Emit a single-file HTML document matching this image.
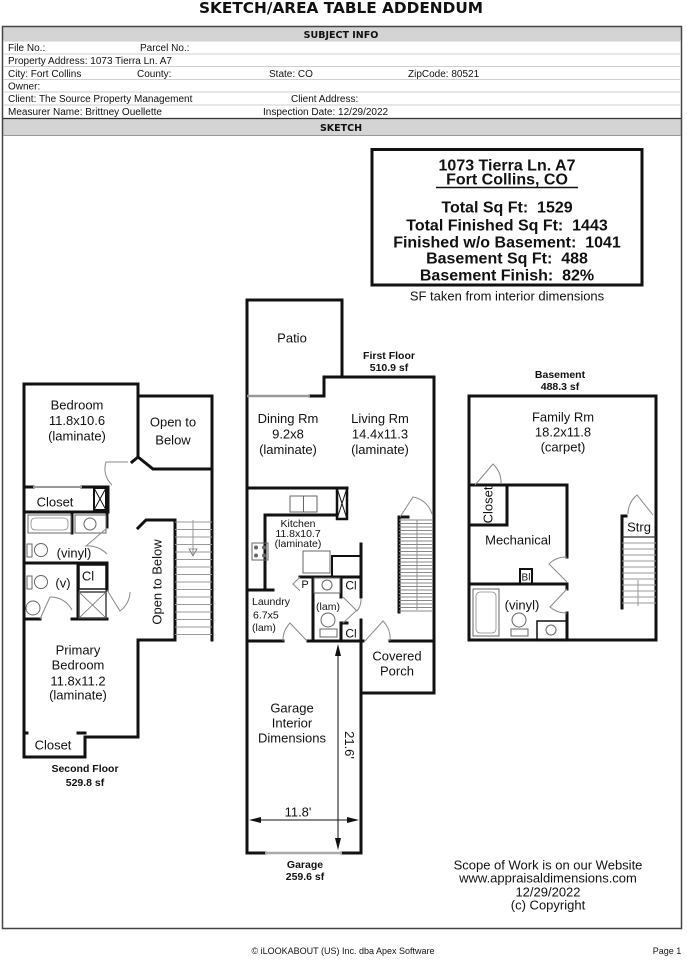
<!DOCTYPE html>
<html><head><meta charset="utf-8"><style>
html,body{margin:0;padding:0;background:#fff;}
svg{display:block;}
text{font-family:"Liberation Sans",Arial,sans-serif;fill:#111;}
.t{font-family:"DejaVu Sans","Liberation Sans",sans-serif;}
</style></head><body>
<svg width="687" height="960" viewBox="0 0 687 960" xmlns="http://www.w3.org/2000/svg">
<rect width="687" height="960" fill="#fff"/>
<!-- Title -->
<text class="t" x="341" y="13" font-size="15" font-weight="bold" text-anchor="middle" textLength="284" lengthAdjust="spacingAndGlyphs">SKETCH/AREA TABLE ADDENDUM</text>
<!-- header table -->
<rect x="3" y="27" width="678" height="14" fill="#d4d4d4"/>
<rect x="3" y="119" width="678" height="16" fill="#d4d4d4"/>
<rect x="2.5" y="26.5" width="679" height="902" fill="none" stroke="#444" stroke-width="1.5"/>
<g stroke="#cfcfcf" stroke-width="1">
<line x1="3" y1="41" x2="681" y2="41"/>
<line x1="3" y1="54" x2="681" y2="54"/>
<line x1="3" y1="66.5" x2="681" y2="66.5"/>
<line x1="3" y1="79.5" x2="681" y2="79.5"/>
<line x1="3" y1="92" x2="681" y2="92"/>
<line x1="3" y1="105" x2="681" y2="105"/>
</g>
<line x1="3" y1="118.5" x2="681" y2="118.5" stroke="#333" stroke-width="1.2"/>
<line x1="3" y1="135.5" x2="681" y2="135.5" stroke="#999" stroke-width="1"/>
<text class="t" x="341" y="38" font-size="9.5" font-weight="bold" text-anchor="middle">SUBJECT INFO</text>
<text class="t" x="341" y="131" font-size="9.5" font-weight="bold" text-anchor="middle">SKETCH</text>
<g font-size="10" fill="#222">
<text x="8" y="51">File No.:</text><text x="140" y="51">Parcel No.:</text>
<text x="8" y="64">Property Address: 1073 Tierra Ln. A7</text>
<text x="8" y="77">City: Fort Collins</text><text x="137" y="77">County:</text><text x="269" y="77">State: CO</text><text x="408" y="77">ZipCode: 80521</text>
<text x="8" y="89.5">Owner:</text>
<text x="8" y="102">Client: The Source Property Management</text><text x="291" y="102">Client Address:</text>
<text x="8" y="115">Measurer Name: Brittney Ouellette</text><text x="263" y="115">Inspection Date: 12/29/2022</text>
</g>

<!-- Info box -->
<rect x="372" y="149.5" width="270" height="135.5" fill="none" stroke="#111" stroke-width="3"/>
<g font-size="16" font-weight="bold" text-anchor="middle">
<text x="507" y="170.5">1073 Tierra Ln. A7</text>
<text x="507" y="184.5">Fort Collins, CO</text>
<text x="507" y="212.5">Total Sq Ft: &#160;1529</text>
<text x="507" y="230.5">Total Finished Sq Ft: &#160;1443</text>
<text x="507" y="247.5">Finished w/o Basement: &#160;1041</text>
<text x="507" y="263.5">Basement Sq Ft: &#160;488</text>
<text x="507" y="280.5">Basement Finish: &#160;82%</text>
</g>
<line x1="436" y1="187.5" x2="578" y2="187.5" stroke="#111" stroke-width="1.5"/>
<text x="507" y="300.5" font-size="13" text-anchor="middle">SF taken from interior dimensions</text>

<!-- ================= SECOND FLOOR ================= -->
<g fill="none" stroke="#111" stroke-width="3" stroke-linecap="square">
<path d="M24,757 V384 H138 V457"/>
<path d="M132,462 L138,457 L153,469 H212"/>
<path d="M138,396 H212 V640"/>
<path d="M24,487 H33 M82,487 H108 V512 H24"/>
<path d="M72,512 V533"/>
<path d="M24,563 H107"/>
<path d="M107,512 V527"/>
<path d="M78,563 V619"/>
<path d="M24,619 H40 M72,619 H107"/>
<path d="M107,563 V590"/>
<path d="M138,528 L146,520 H175 V640 H138 V737 H85 V757 H24"/>
<path d="M24,733 H27 M78,733 H85"/>
</g>
<rect x="94" y="488" width="12" height="22" fill="none" stroke="#111" stroke-width="2"/>
<path d="M94,488 L106,510 M106,488 L94,510" stroke="#111" stroke-width="1"/>
<line x1="33" y1="487" x2="82" y2="487" stroke="#999" stroke-width="2"/>
<!-- bath fixtures -->
<rect x="28" y="515" width="43" height="18" fill="none" stroke="#666" stroke-width="1"/>
<rect x="31" y="518" width="37" height="12" rx="4" fill="none" stroke="#888" stroke-width="0.8"/>
<rect x="75" y="515" width="31" height="18" fill="none" stroke="#666" stroke-width="1"/>
<circle cx="90" cy="524" r="6" fill="none" stroke="#666" stroke-width="1"/>
<rect x="27" y="544" width="5" height="13" fill="none" stroke="#666"/>
<circle cx="41" cy="550" r="6.5" fill="none" stroke="#666"/>
<rect x="27" y="576" width="5" height="13" fill="none" stroke="#666"/>
<circle cx="41" cy="582" r="6.5" fill="none" stroke="#666"/>
<rect x="79" y="565" width="27" height="24" fill="none" stroke="#111" stroke-width="1.5"/>
<rect x="79" y="592" width="27" height="26" fill="none" stroke="#444" stroke-width="1.5"/>
<path d="M79,592 L106,618 M106,592 L79,618" stroke="#666" stroke-width="0.8"/>
<circle cx="33" cy="608" r="7" fill="none" stroke="#666"/>
<!-- doors second floor -->
<g fill="none" stroke="#888" stroke-width="1">
<path d="M128,462 H106 A22,22 0 0 0 112,485"/>
<path d="M107,528 L86,546 A26,26 0 0 1 107,554"/>
<path d="M40,619 L50,597 A24,24 0 0 1 72,610"/>
<path d="M107,590 L120,611 A24,24 0 0 0 130,592"/>
</g>
<!-- left stairs -->
<g stroke="#999" stroke-width="1">
<line x1="175" y1="522" x2="212" y2="522"/><line x1="175" y1="529.5" x2="212" y2="529.5"/><line x1="175" y1="537" x2="212" y2="537"/><line x1="175" y1="544.5" x2="212" y2="544.5"/><line x1="175" y1="552" x2="212" y2="552"/><line x1="175" y1="559.5" x2="212" y2="559.5"/><line x1="175" y1="567" x2="212" y2="567"/><line x1="175" y1="574.5" x2="212" y2="574.5"/><line x1="175" y1="582" x2="212" y2="582"/><line x1="175" y1="589.5" x2="212" y2="589.5"/><line x1="175" y1="597" x2="212" y2="597"/><line x1="175" y1="604.5" x2="212" y2="604.5"/><line x1="175" y1="612" x2="212" y2="612"/><line x1="175" y1="619.5" x2="212" y2="619.5"/><line x1="175" y1="627" x2="212" y2="627"/><line x1="175" y1="634.5" x2="212" y2="634.5"/>
<line x1="193" y1="520" x2="193" y2="556"/>
</g>
<path d="M189,549 L197,549 L193,556 Z" fill="none" stroke="#777" stroke-width="0.8"/>
<g font-size="13" text-anchor="middle">
<text x="77" y="409.5">Bedroom</text>
<text x="77" y="425">11.8x10.6</text>
<text x="77" y="440.5">(laminate)</text>
<text x="173" y="426.5">Open to</text>
<text x="173" y="444.5">Below</text>
<text x="55" y="506.5">Closet</text>
<text x="74" y="557.5">(vinyl)</text>
<text x="63" y="587.5">(v)</text>
<text x="88" y="580.5">Cl</text>
<text transform="translate(161.5,582) rotate(-90)">Open to Below</text>
<text x="78" y="654.5">Primary</text>
<text x="78" y="669.5">Bedroom</text>
<text x="78" y="685.5">11.8x11.2</text>
<text x="78" y="699.5">(laminate)</text>
<text x="53" y="749.5">Closet</text>
</g>
<g font-size="10.5" font-weight="bold" text-anchor="middle">
<text x="85" y="772">Second Floor</text>
<text x="85" y="786">529.8 sf</text>
</g>

<!-- ================= FIRST FLOOR ================= -->
<g fill="none" stroke="#111" stroke-width="3" stroke-linecap="square">
<path d="M247,853 V300 H342 V377"/>
<path d="M310,396 H324 V377 H434 V693 H361"/>
<path d="M247,488 H347"/>
<path d="M265,589 V515 H337"/>
<path d="M247,590 H273"/>
<path d="M361,544 V597"/>
<path d="M300,577 H361"/>
<path d="M313,577 V641"/>
<path d="M341,577 V597"/>
<path d="M341,623 V641 M341,623 H347"/>
<path d="M361,620 V853"/>
<path d="M247,641 H283 M308,641 H363 M390,641 H434"/>
<path d="M247,853 H265 M342,853 H361"/>
<path d="M399,517 V612 M399,517 H408"/>
</g>
<line x1="247" y1="396" x2="310" y2="396" stroke="#999" stroke-width="2.5"/>
<line x1="265" y1="853" x2="342" y2="853" stroke="#aaa" stroke-width="2.5"/>
<rect x="337" y="488" width="10" height="31" fill="none" stroke="#111" stroke-width="2.5"/>
<path d="M337,488 L347,519 M347,488 L337,519" stroke="#111" stroke-width="1"/>
<!-- kitchen fixtures -->
<rect x="290" y="496" width="27" height="16" fill="none" stroke="#666"/>
<line x1="303.5" y1="496" x2="303.5" y2="512" stroke="#666"/>
<rect x="252" y="543" width="16" height="17" fill="none" stroke="#666"/>
<circle cx="256" cy="547.5" r="2" fill="#666"/><circle cx="264" cy="547.5" r="2" fill="#666"/><circle cx="256" cy="555.5" r="2" fill="#666"/><circle cx="264" cy="555.5" r="2" fill="#666"/>
<rect x="303" y="551" width="27" height="22" fill="none" stroke="#666"/>
<path d="M332,577 V556 H360" fill="none" stroke="#111" stroke-width="2"/>
<rect x="314" y="578" width="26" height="15" fill="none" stroke="#666"/>
<circle cx="327" cy="585" r="5" fill="none" stroke="#666"/>
<circle cx="328" cy="620" r="7" fill="none" stroke="#666"/>
<rect x="320" y="629" width="17" height="8" fill="none" stroke="#666"/>
<!-- doors first floor -->
<g fill="none" stroke="#888" stroke-width="1">
<path d="M300,577 L293,584 L300,591"/>
<path d="M307,641 L290,623 A25,25 0 0 0 283,641"/>
<path d="M365,641 L383,621 A25,25 0 0 1 390,641"/>
<path d="M400,517 L413,497 A24,24 0 0 1 432,514"/>
<path d="M343,597 L357,611 A18,18 0 0 0 361,599"/>
<path d="M343,623 L357,610"/>
</g>
<!-- middle stairs -->
<g stroke="#888" stroke-width="0.9">
<line x1="399" y1="520" x2="433" y2="520"/><line x1="399" y1="523.5" x2="433" y2="523.5"/><line x1="399" y1="527" x2="433" y2="527"/><line x1="399" y1="530.5" x2="433" y2="530.5"/><line x1="399" y1="534" x2="433" y2="534"/><line x1="399" y1="537.5" x2="433" y2="537.5"/><line x1="399" y1="541" x2="433" y2="541"/><line x1="399" y1="544.5" x2="433" y2="544.5"/><line x1="399" y1="548" x2="433" y2="548"/><line x1="399" y1="551.5" x2="433" y2="551.5"/><line x1="399" y1="555" x2="433" y2="555"/><line x1="399" y1="558.5" x2="433" y2="558.5"/><line x1="399" y1="562" x2="433" y2="562"/><line x1="399" y1="565.5" x2="433" y2="565.5"/><line x1="399" y1="569" x2="433" y2="569"/><line x1="399" y1="572.5" x2="433" y2="572.5"/><line x1="399" y1="576" x2="433" y2="576"/><line x1="399" y1="579.5" x2="433" y2="579.5"/><line x1="399" y1="583" x2="433" y2="583"/><line x1="399" y1="586.5" x2="433" y2="586.5"/><line x1="399" y1="590" x2="433" y2="590"/><line x1="399" y1="593.5" x2="433" y2="593.5"/><line x1="399" y1="597" x2="433" y2="597"/><line x1="399" y1="600.5" x2="433" y2="600.5"/><line x1="399" y1="604" x2="433" y2="604"/><line x1="399" y1="607.5" x2="433" y2="607.5"/><line x1="399" y1="611" x2="433" y2="611"/>
<line x1="417" y1="520" x2="417" y2="610"/>
</g>
<!-- dimensions -->
<g stroke="#111" stroke-width="1">
<line x1="338" y1="650" x2="338" y2="846"/>
<line x1="252" y1="820" x2="356" y2="820"/>
</g>
<path d="M338,644 L335,656 L341,656 Z M338,850 L335,838 L341,838 Z M249,820 L261,817 L261,823 Z M359,820 L347,817 L347,823 Z" fill="#111"/>
<g font-size="13" text-anchor="middle">
<text x="292" y="342.5">Patio</text>
<text x="288" y="423">Dining Rm</text>
<text x="288" y="438.5">9.2x8</text>
<text x="288" y="454">(laminate)</text>
<text x="380" y="423">Living Rm</text>
<text x="380" y="438.5">14.4x11.3</text>
<text x="380" y="454">(laminate)</text>
<text x="397" y="660.5">Covered</text>
<text x="397" y="675.5">Porch</text>
<text x="292" y="712.5">Garage</text>
<text x="292" y="727.5">Interior</text>
<text x="292" y="742.5">Dimensions</text>
<text x="298" y="816.5">11.8'</text>
<text transform="translate(345,745) rotate(90)">21.6'</text>
<text x="351" y="589.5" font-size="12">Cl</text>
<text x="351" y="637.5" font-size="12">Cl</text>
</g>
<g font-size="10.5" text-anchor="middle">
<text x="298" y="527">Kitchen</text>
<text x="298" y="537">11.8x10.7</text>
<text x="298" y="547">(laminate)</text>
<text x="328" y="610">(lam)</text>
<text x="305" y="588" font-size="11">P</text>
</g>
<g font-size="10.5">
<text x="252" y="605">Laundry</text>
<text x="253" y="618.5">6.7x5</text>
<text x="252" y="631">(lam)</text>
</g>
<g font-size="10.5" font-weight="bold" text-anchor="middle">
<text x="389" y="359">First Floor</text>
<text x="389" y="371">510.9 sf</text>
<text x="305" y="868">Garage</text>
<text x="305" y="880">259.6 sf</text>
</g>

<!-- ================= BASEMENT ================= -->
<g fill="none" stroke="#111" stroke-width="3" stroke-linecap="square">
<rect x="469" y="396" width="187" height="244"/>
<path d="M469,485 H567 V557"/>
<path d="M507,485 V525 H469"/>
<path d="M469,584 H567 V589"/>
<path d="M567,613 V640"/>
<path d="M622,608 V516 H626"/>
</g>
<line x1="622" y1="537" x2="656" y2="537" stroke="#333" stroke-width="1.2"/>
<rect x="520" y="569" width="12" height="15" fill="none" stroke="#111" stroke-width="2"/>
<rect x="473" y="589" width="26" height="47" fill="none" stroke="#666"/>
<rect x="476" y="592" width="20" height="41" rx="4" fill="none" stroke="#888" stroke-width="0.8"/>
<circle cx="519" cy="620" r="7" fill="none" stroke="#666"/>
<rect x="511" y="629" width="17" height="7" fill="none" stroke="#666"/>
<rect x="537" y="621" width="30" height="19" fill="none" stroke="#111" stroke-width="1.5"/>
<circle cx="551" cy="630" r="5" fill="none" stroke="#666"/>
<g fill="none" stroke="#888" stroke-width="1">
<path d="M475,485 L493,464 A26,26 0 0 1 501,484"/>
<path d="M567,582 L549,564 A24,24 0 0 1 567,557"/>
<path d="M567,589 L550,607 A24,24 0 0 0 567,613"/>
<path d="M653,515 L637,495 A24,24 0 0 0 628,514"/>
</g>
<g stroke="#999" stroke-width="1">
<line x1="622" y1="543" x2="656" y2="543"/><line x1="622" y1="549" x2="656" y2="549"/><line x1="622" y1="555" x2="656" y2="555"/><line x1="622" y1="561" x2="656" y2="561"/><line x1="622" y1="567" x2="656" y2="567"/><line x1="622" y1="573" x2="656" y2="573"/><line x1="622" y1="579" x2="656" y2="579"/><line x1="622" y1="585" x2="656" y2="585"/><line x1="622" y1="591" x2="656" y2="591"/><line x1="622" y1="597" x2="656" y2="597"/><line x1="622" y1="603" x2="656" y2="603"/>
<line x1="638" y1="580" x2="638" y2="606"/>
</g>
<g font-size="13" text-anchor="middle">
<text x="563" y="421.5">Family Rm</text>
<text x="563" y="436.5">18.2x11.8</text>
<text x="563" y="451.5">(carpet)</text>
<text transform="translate(492.5,505) rotate(-90)">Closet</text>
<text x="518" y="544.5">Mechanical</text>
<text x="522" y="609.5">(vinyl)</text>
<text x="639" y="531.5">Strg</text>
<text x="526" y="580.5" font-size="10">Bl</text>
</g>
<g font-size="10.5" font-weight="bold" text-anchor="middle">
<text x="560" y="378">Basement</text>
<text x="560" y="390">488.3 sf</text>
</g>

<!-- Scope -->
<g font-size="13" text-anchor="middle">
<text x="548" y="869.5">Scope of Work is on our Website</text>
<text x="548" y="882.5">www.appraisaldimensions.com</text>
<text x="548" y="896.5">12/29/2022</text>
<text x="548" y="909.5">(c) Copyright</text>
</g>
<!-- footer -->
<text x="343" y="954" font-size="9" text-anchor="middle">© iLOOKABOUT (US) Inc. dba Apex Software</text>
<text x="667" y="954" font-size="9" text-anchor="middle">Page 1</text>
</svg>
</body></html>
